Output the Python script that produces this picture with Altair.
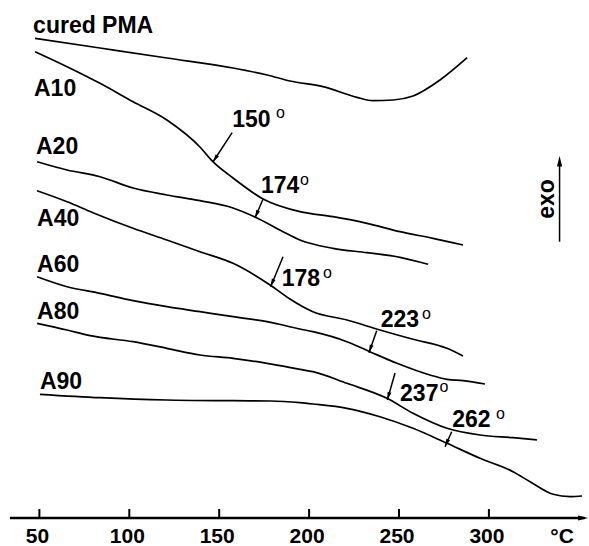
import math
import altair as alt
import pandas as pd

# ---- DSC traces: temperature (°C) and heat flow (arbitrary units, curves offset vertically)
cured_pma_t = [47.6, 83.7, 120.9, 157.7, 176.7, 189.3, 207.7, 226.6, 235.5, 246.7, 257.8, 272.8, 287.9]
cured_pma_q = [47.97, 47.0, 46.0, 45.0, 44.3, 43.7, 43.13, 42.07, 41.73, 41.8, 42.2, 43.8, 46.03]

a10_t = [47.6, 65.4, 83.7, 102.1, 120.9, 139.3, 146.5, 157.7, 174.4, 194.9, 213.3, 232.2, 250.6, 268.9, 285.6]
a10_q = [46.63, 45.13, 43.47, 41.63, 39.8, 37.1, 35.63, 34.0, 31.9, 30.63, 30.13, 29.47, 28.63, 27.97, 27.3]

a20_t = [48.7, 65.4, 83.7, 102.1, 120.9, 139.3, 157.7, 169.9, 185.5, 194.9, 213.3, 232.2, 250.6, 266.2]
a20_q = [35.63, 34.8, 34.13, 33.0, 32.3, 31.73, 31.0, 30.1, 28.63, 27.8, 26.97, 26.53, 26.07, 25.37]

a40_t = [48.7, 65.4, 79.8, 102.1, 120.9, 139.3, 157.7, 178.3, 189.3, 202.1, 221.0, 239.4, 257.8, 276.7, 285.6]
a40_q = [32.73, 31.63, 30.53, 28.97, 27.8, 26.63, 25.47, 23.3, 21.9, 20.63, 19.8, 18.8, 17.87, 16.97, 16.2]

a60_t = [48.7, 65.4, 83.7, 102.1, 120.9, 139.3, 157.7, 176.6, 194.9, 202.1, 221.0, 233.8, 248.9, 267.2, 276.7, 285.6, 297.8]
a60_q = [24.13, 23.13, 22.47, 21.73, 21.13, 20.63, 20.13, 19.63, 18.9, 18.63, 17.63, 16.63, 15.47, 14.3, 13.87, 13.73, 13.4]

a80_t = [48.7, 65.4, 78.2, 102.1, 120.9, 139.3, 157.7, 176.6, 194.9, 202.1, 221.0, 243.3, 257.8, 276.7, 295.1, 313.4, 326.8]
a80_q = [19.47, 18.8, 18.23, 17.63, 16.97, 16.3, 15.97, 15.47, 14.87, 14.63, 13.47, 11.97, 10.47, 8.97, 8.3, 8.03, 7.8]

a90_t = [50.3, 83.7, 120.9, 157.7, 178.3, 194.9, 202.1, 221.0, 239.4, 257.8, 276.7, 295.1, 313.4, 322.9, 335.7, 345.1, 351.8]
a90_q = [12.37, 12.03, 11.8, 11.73, 11.7, 11.53, 11.4, 10.97, 10.13, 8.97, 7.47, 5.97, 4.63, 3.63, 2.37, 2.13, 2.2]

curve_names = ["cured PMA", "A10", "A20", "A40", "A60", "A80", "A90"]
curve_t = [cured_pma_t, a10_t, a20_t, a40_t, a60_t, a80_t, a90_t]
curve_q = [cured_pma_q, a10_q, a20_q, a40_q, a60_q, a80_q, a90_q]

# curve name labels (left anchor, text baseline)
name_t = [46.5, 47.0, 48.1, 48.7, 48.7, 48.7, 50.3]
name_q = [48.5, 42.25, 36.4, 29.2, 24.6, 19.9, 12.9]

# transition temperatures marked with arrows
trans_labels = ["150", "174", "178", "223", "237", "262"]
tail_t = [157.2, 174.4, 185.5, 237.6, 247.8, 279.3]
tail_q = [38.53, 31.9, 26.13, 18.73, 14.5, 8.63]
tip_t = [146.5, 169.9, 178.6, 233.3, 243.5, 275.6]
tip_q = [35.6, 30.0, 23.13, 16.53, 11.8, 7.13]
num_t = [157.2, 173.2, 184.8, 239.8, 250.6, 279.6]
num_q = [39.1, 32.53, 23.2, 19.13, 11.7, 9.13]
deg_t = [181.6, 195.0, 207.7, 262.8, 272.5, 304.0]
deg_q = [40.0, 33.3, 24.0, 19.9, 12.6, 9.9]

tick_values = [50, 100, 150, 200, 250, 300]

# ---- scales
T_MIN, T_MAX = 28.09, 355.67
Q_MIN, Q_MAX = 0.0, 51.8
W, H = 589, 518
PX_PER_T = W / (T_MAX - T_MIN)
PX_PER_Q = H / (Q_MAX - Q_MIN)

xs = alt.Scale(domain=[T_MIN, T_MAX], nice=False, zero=False)
ys = alt.Scale(domain=[Q_MIN, Q_MAX], nice=False, zero=False)

FONT = "Liberation Sans"
HEAD = "M0,0L-0.5,-2L0.5,-2Z"  # arrowhead with its tip at the origin, pointing down


def head_angle(t0, q0, t1, q1):
    dx = (t1 - t0) * PX_PER_T
    dy = -(q1 - q0) * PX_PER_Q
    return math.degrees(math.atan2(-dx, dy)) % 360


rows = []
for name, ts, qs in zip(curve_names, curve_t, curve_q):
    for t, q in zip(ts, qs):
        rows.append({"curve": name, "t": t, "q": q})
curves_df = pd.DataFrame(rows)

names_df = pd.DataFrame({"name": curve_names, "t": name_t, "q": name_q})

shafts = [
    {"t": a, "q": b, "t2": c, "q2": d}
    for a, b, c, d in zip(tail_t, tail_q, tip_t, tip_q)
]
heads = [
    {"t": c, "q": d, "angle": head_angle(a, b, c, d), "size": 64}
    for a, b, c, d in zip(tail_t, tail_q, tip_t, tip_q)
]

# "exo" direction arrow
exo_t, exo_q0, exo_q1 = 339.3, 27.63, 36.2
shafts.append({"t": exo_t, "q": exo_q0, "t2": exo_t, "q2": exo_q1 - 0.8})
heads.append({"t": exo_t, "q": exo_q1, "angle": head_angle(exo_t, exo_q0, exo_t, exo_q1), "size": 110})

# temperature axis arrow
axis_t0, axis_t1 = 33.6, 355.2
heads.append({"t": axis_t1, "q": 0.0, "angle": head_angle(axis_t0, 0, axis_t1, 0), "size": 100})

shafts_df = pd.DataFrame(shafts)
heads_df = pd.DataFrame(heads)
nums_df = pd.DataFrame({"label": trans_labels, "t": num_t, "q": num_q})
degs_df = pd.DataFrame({"label": ["o"] * len(deg_t), "t": deg_t, "q": deg_q})
ticks_df = pd.DataFrame({"t": tick_values})

X = alt.X("t:Q", scale=xs, axis=None)
Y = alt.Y("q:Q", scale=ys, axis=None)

lines = alt.Chart(curves_df).mark_line(
    color="black", strokeWidth=1.7, interpolate="monotone"
).encode(x=X, y=Y, detail="curve:N", order="t:Q")

name_text = alt.Chart(names_df).mark_text(
    align="left", baseline="alphabetic", font=FONT, fontWeight="bold", fontSize=23, color="black"
).encode(x=X, y=Y, text="name:N")

shaft_rules = alt.Chart(shafts_df).mark_rule(color="black", strokeWidth=1.5).encode(
    x=X, y=Y, x2="t2:Q", y2="q2:Q"
)

head_marks = alt.Chart(heads_df).mark_point(
    shape=HEAD, filled=True, color="black", opacity=1, strokeWidth=0
).encode(
    x=X, y=Y,
    angle=alt.Angle("angle:Q", scale=None),
    size=alt.Size("size:Q", scale=None),
)

num_text = alt.Chart(nums_df).mark_text(
    align="left", baseline="alphabetic", font=FONT, fontWeight="bold", fontSize=23, color="black"
).encode(x=X, y=Y, text="label:N")

deg_text = alt.Chart(degs_df).mark_text(
    align="left", baseline="alphabetic", font=FONT, fontSize=16, color="black"
).encode(x=X, y=Y, text="label:N")

exo_text = alt.Chart(pd.DataFrame({"t": [332.4], "q": [31.9], "label": ["exo"]})).mark_text(
    align="center", baseline="middle", angle=270, font=FONT, fontWeight="bold", fontSize=23, color="black"
).encode(x=X, y=Y, text="label:N")

axis_line = alt.Chart(pd.DataFrame({"t": [axis_t0], "t2": [axis_t1 - 2], "q": [0.0]})).mark_rule(
    color="black", strokeWidth=2.5
).encode(x=X, x2="t2:Q", y=Y)

tick_marks = alt.Chart(ticks_df).mark_rule(color="black", strokeWidth=2).encode(
    x=X, y=alt.value(H - 9), y2=alt.value(H)
)

tick_labels = alt.Chart(ticks_df).mark_text(
    align="center", baseline="alphabetic", font=FONT, fontWeight="bold", fontSize=21, dx=-2, color="black"
).encode(x=X, y=alt.value(H + 25), text="t:Q")

unit_label = alt.Chart(pd.DataFrame({"t": [340.7], "label": ["°C"]})).mark_text(
    align="center", baseline="alphabetic", font=FONT, fontWeight="bold", fontSize=21, color="black"
).encode(x=X, y=alt.value(H + 25), text="label:N")

chart = alt.layer(
    lines, name_text, shaft_rules, head_marks, num_text, deg_text, exo_text,
    axis_line, tick_marks, tick_labels, unit_label,
).properties(
    width=W, height=H,
    autosize=alt.AutoSizeParams(type="none"),
    padding={"left": 0, "top": 0, "right": 0, "bottom": 28},
    background="white",
).configure_view(stroke=None)

chart.save("out.html", embed_options={"renderer": "svg", "actions": False})
